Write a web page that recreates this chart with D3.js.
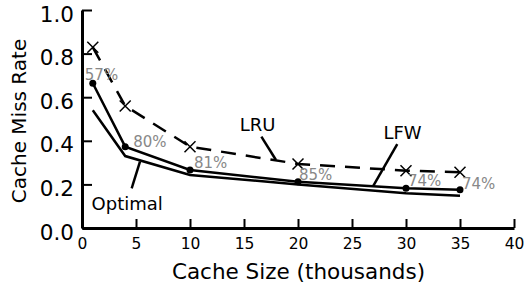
<!DOCTYPE html>
<html>
<head>
<meta charset="utf-8">
<script src="https://cdn.jsdelivr.net/npm/d3@7"></script>
<style>
  body { margin: 0; background: #fff; }
  svg { font-family: "DejaVu Sans", sans-serif; }
</style>
</head>
<body>
<div id="chart"></div>
<script>
// cache sizes (thousands)
var sizes = [1, 4, 10, 20, 30, 35];
var optimal = [0.54, 0.33, 0.243, 0.2, 0.159, 0.148];
var lfw = [0.664, 0.373, 0.266, 0.212, 0.182, 0.175];
var lru = [0.829, 0.56, 0.373, 0.294, 0.263, 0.256];
var pctLabels = ["57%", "80%", "81%", "85%", "74%", "74%"];
var xTicks = [0, 5, 10, 15, 20, 25, 30, 35, 40];
var yTicks = [0, 0.2, 0.4, 0.6, 0.8, 1.0];

var width = 526, height = 289,
    marginLeft = 82, marginTop = 10, plotW = 432, plotH = 218;

var svg = d3.select("#chart").append("svg")
    .attr("width", width)
    .attr("height", height);

var x = d3.scaleLinear().domain([0, 40]).range([marginLeft, marginLeft + plotW]);
var y = d3.scaleLinear().domain([0, 1]).range([marginTop + plotH, marginTop]);

var line = d3.line()
    .x((d) => x(d[0]))
    .y((d) => y(d[1]));

function pairs(vals) { return sizes.map((s, i) => [s, vals[i]]); }

// optimal
svg.append("path")
    .attr("d", line(pairs(optimal)))
    .attr("fill", "none").attr("stroke", "#000").attr("stroke-width", 2.5);

// lfw
svg.append("path")
    .attr("d", line(pairs(lfw)))
    .attr("fill", "none").attr("stroke", "#000").attr("stroke-width", 2.5);
svg.append("g").selectAll("circle")
    .data(pairs(lfw))
    .join("circle")
    .attr("cx", (d) => x(d[0]))
    .attr("cy", (d) => y(d[1]))
    .attr("r", 3.5)
    .attr("fill", "#000");

// lru dashed
svg.append("path")
    .attr("d", line(pairs(lru)))
    .attr("fill", "none").attr("stroke", "#000").attr("stroke-width", 2.5)
    .attr("stroke-dasharray", "15,10");
var cross = svg.append("g").selectAll("g")
    .data(pairs(lru))
    .join("g")
    .attr("transform", (d) => "translate(" + x(d[0]) + "," + y(d[1]) + ")");
cross.append("path")
    .attr("d", "M-5.5,-5.5L5.5,5.5M-5.5,5.5L5.5,-5.5")
    .attr("stroke", "#000").attr("stroke-width", 1.5);

// percentage labels
var pctDx = [-8, 8, 4, 1, 2, 2],
    pctDy = [-3, 0, -2, -2, -2, -1];
svg.append("g").selectAll("text")
    .data(pairs(lfw))
    .join("text")
    .attr("x", (d, i) => x(d[0]) + pctDx[i])
    .attr("y", (d, i) => y(d[1]) + pctDy[i])
    .attr("font-size", 15)
    .attr("fill", "#888")
    .text((d, i) => pctLabels[i]);

// annotations
var notes = [
    { label: "LRU", tx: 16.25, ty: 0.445, lx1: 16.61, ly1: 0.419, lx2: 17.96, ly2: 0.312 },
    { label: "LFW", tx: 29.68, ty: 0.406, lx1: 29.19, ly1: 0.385, lx2: 26.97, ly2: 0.193 },
    { label: "Optimal", tx: 4.18, ty: 0.083, lx1: 5.37, ly1: 0.304, lx2: 4.6, ly2: 0.182 }
];
notes.forEach(function (n) {
    svg.append("line")
        .attr("x1", x(n.lx1)).attr("y1", y(n.ly1))
        .attr("x2", x(n.lx2)).attr("y2", y(n.ly2))
        .attr("stroke", "#000").attr("stroke-width", 2.5);
    svg.append("text")
        .attr("x", x(n.tx)).attr("y", y(n.ty))
        .attr("text-anchor", "middle")
        .attr("font-size", 18)
        .text(n.label);
});

// axes
var xAxis = d3.axisBottom(x).tickValues(xTicks).tickSizeInner(-9).tickSizeOuter(0).tickPadding(10);
var gx = svg.append("g")
    .attr("transform", "translate(0," + (marginTop + plotH) + ")")
    .call(xAxis);
gx.select(".domain").attr("stroke-width", 3);
gx.selectAll(".tick line").attr("stroke-width", 2);
gx.selectAll("text").attr("font-size", 15.5).attr("font-family", "DejaVu Sans").attr("fill", "#000");

var yAxis = d3.axisLeft(y).tickValues(yTicks).tickFormat(d3.format(".1f"))
    .tickSizeInner(-10).tickSizeOuter(0).tickPadding(8);
var gy = svg.append("g")
    .attr("transform", "translate(" + marginLeft + ",0)")
    .call(yAxis);
gy.select(".domain").attr("stroke-width", 3);
gy.selectAll(".tick line").attr("stroke-width", 2);
gy.selectAll("text").attr("font-size", 21.5).attr("dy", "0.52em")
    .attr("font-family", "DejaVu Sans").attr("fill", "#000");

svg.append("text")
    .attr("x", 298.5)
    .attr("y", 279)
    .attr("text-anchor", "middle")
    .attr("font-size", 21.5)
    .text("Cache Size (thousands)");

svg.append("text")
    .attr("transform", "translate(25.5,121) rotate(-90)")
    .attr("text-anchor", "middle")
    .attr("font-size", 20)
    .text("Cache Miss Rate");
</script>
</body>
</html>
